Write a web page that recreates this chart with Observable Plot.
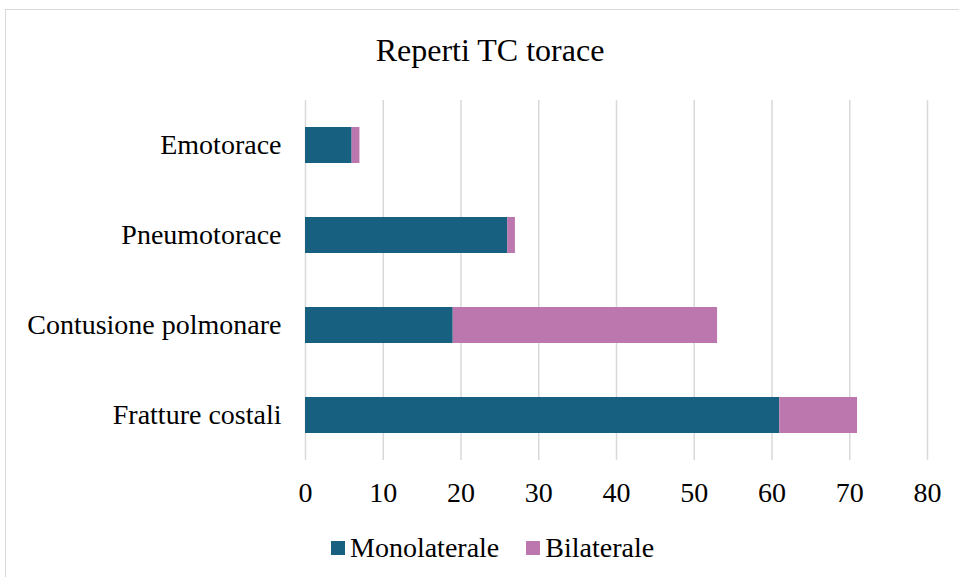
<!DOCTYPE html>
<html>
<head>
<meta charset="utf-8">
<script src="https://cdn.jsdelivr.net/npm/d3@7"></script>
<script src="https://cdn.jsdelivr.net/npm/@observablehq/plot@0.6"></script>
<style>
  html, body { margin: 0; padding: 0; background: #fff; overflow: hidden; }
  body { width: 959px; height: 577px; position: relative; font-family: "Liberation Serif", "Times New Roman", serif; color: #000; }
  #frame { position: absolute; left: 5px; top: 9px; width: 970px; height: 600px; border: 1.5px solid #d9d9d9; box-sizing: border-box; }
  #title { position: absolute; top: 30px; left: 490px; transform: translateX(-50%); font-size: 32px; line-height: 40px; white-space: nowrap; }
  #chart { position: absolute; left: 0; top: 90px; }
  #legend { position: absolute; left: 331px; top: 528px; height: 40px; display: flex; align-items: center; font-size: 28px; line-height: 40px; white-space: nowrap; }
  .item { display: flex; align-items: center; margin-right: 27px; }
  .sw { width: 14px; height: 14px; margin-right: 5px; }
</style>
</head>
<body>
<div id="frame"></div>
<div id="title">Reperti TC torace</div>
<div id="chart"></div>
<div id="legend"></div>
<script>
const categories = ["Emotorace", "Pneumotorace", "Contusione polmonare", "Fratture costali"];
const seriesNames = ["Monolaterale", "Bilaterale"];
const monolaterale = [6, 26, 19, 61];
const bilaterale = [1, 1, 34, 10];
const xTicks = [0, 10, 20, 30, 40, 50, 60, 70, 80];
const colors = ["#17607f", "#bb77ae"];

const data = [];
categories.forEach((c, i) => {
  data.push({category: c, series: seriesNames[0], value: monolaterale[i]});
  data.push({category: c, series: seriesNames[1], value: bilaterale[i]});
});

const chart = Plot.plot({
  width: 959,
  height: 430,
  marginLeft: 305,
  marginRight: 32,
  marginTop: 10,
  marginBottom: 60,
  style: {fontFamily: "'Liberation Serif', 'Times New Roman', serif", color: "#000", background: "transparent"},
  x: {domain: [0, 80], ticks: xTicks, label: null},
  y: {domain: categories, paddingInner: 0.6, paddingOuter: 0.3, label: null},
  color: {domain: seriesNames, range: colors},
  marks: [
    Plot.gridX(xTicks, {stroke: "#d9d9d9", strokeOpacity: 1, strokeWidth: 1.5}),
    Plot.barX(data, {x: "value", y: "category", fill: "series"}),
    Plot.axisX({ticks: xTicks, tickSize: 0, tickPadding: 22, fontSize: 28, label: null}),
    Plot.axisY({tickSize: 0, tickPadding: 24, fontSize: 28, label: null})
  ]
});
document.getElementById("chart").appendChild(chart);

const legend = document.getElementById("legend");
seriesNames.forEach((s, i) => {
  const item = document.createElement("div");
  item.className = "item";
  const sw = document.createElement("div");
  sw.className = "sw";
  sw.style.background = colors[i];
  const t = document.createElement("span");
  t.textContent = s;
  item.appendChild(sw);
  item.appendChild(t);
  legend.appendChild(item);
});
</script>
</body>
</html>
